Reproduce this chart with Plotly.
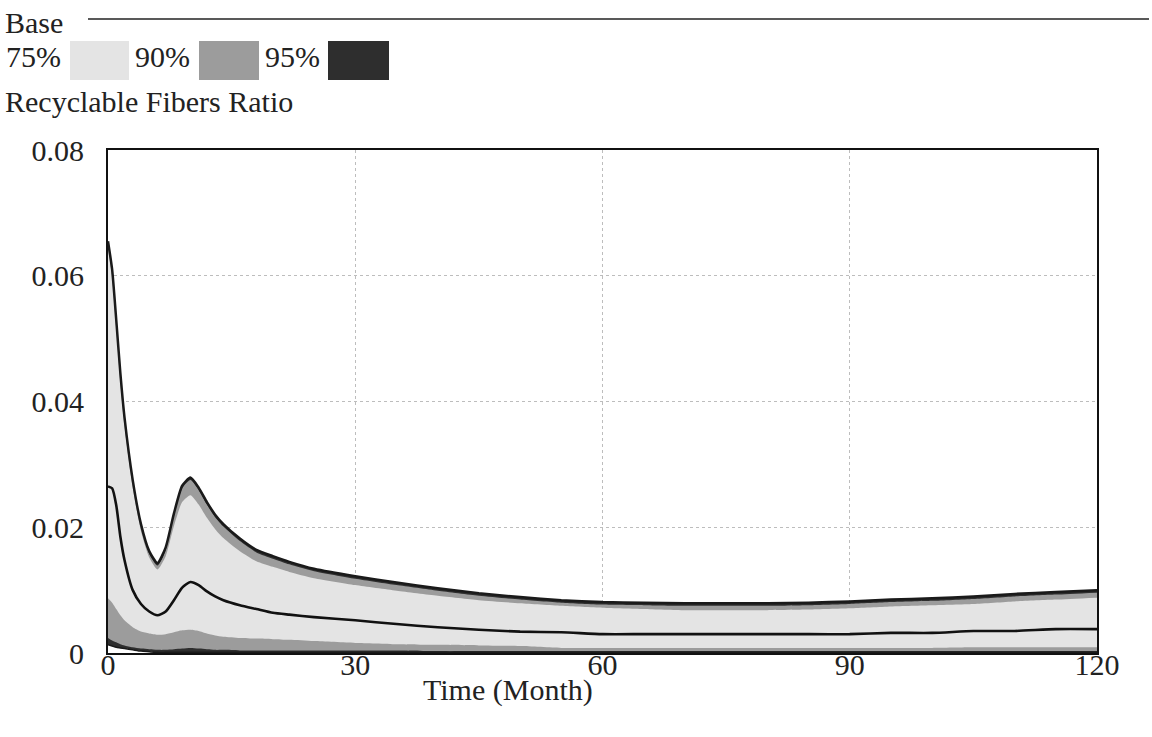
import plotly.graph_objects as go

# ---- data ----
time = [0, 0.5, 1, 1.5, 2, 3, 4, 5, 6, 7, 8, 9, 10, 11, 12, 13, 14, 16, 18, 20, 22, 25,
        30, 35, 40, 45, 50, 55, 60, 65, 70, 75, 80, 85, 90, 95, 100, 105, 110, 115, 120]

hi95 = [0.0655, 0.0610, 0.0530, 0.0445, 0.0375, 0.0275, 0.0205, 0.0162, 0.0143, 0.0168,
        0.0222, 0.0266, 0.0279, 0.0263, 0.0240, 0.0220, 0.0205, 0.0182, 0.0164, 0.0154,
        0.0145, 0.0134, 0.0122, 0.0112, 0.0103, 0.0095, 0.0089, 0.0084, 0.0081, 0.0080,
        0.0079, 0.0079, 0.0079, 0.0080, 0.0082, 0.0085, 0.0087, 0.0090, 0.0094, 0.0097, 0.0100]

hi90 = [0.0651, 0.0606, 0.0526, 0.0441, 0.0371, 0.0271, 0.0201, 0.0158, 0.0139, 0.0164,
        0.0218, 0.0262, 0.0275, 0.0259, 0.0236, 0.0216, 0.0201, 0.0178, 0.0160, 0.0150,
        0.0141, 0.0130, 0.0118, 0.0108, 0.0099, 0.0091, 0.0085, 0.0080, 0.0077, 0.0076,
        0.0075, 0.0075, 0.0075, 0.0076, 0.0078, 0.0081, 0.0083, 0.0086, 0.0090, 0.0093, 0.0096]

hi75 = [0.0645, 0.0598, 0.0516, 0.0431, 0.0361, 0.0263, 0.0194, 0.0152, 0.0133, 0.0154,
        0.0202, 0.0240, 0.0251, 0.0236, 0.0215, 0.0197, 0.0183, 0.0162, 0.0146, 0.0137,
        0.0129, 0.0119, 0.0108, 0.0099, 0.0091, 0.0084, 0.0079, 0.0075, 0.0072, 0.0070,
        0.0068, 0.0068, 0.0068, 0.0069, 0.0071, 0.0074, 0.0076, 0.0078, 0.0082, 0.0085, 0.0088]

base = [0.0265, 0.0262, 0.0235, 0.0185, 0.0148, 0.0100, 0.0078, 0.0066, 0.0060, 0.0066,
        0.0084, 0.0104, 0.0113, 0.0108, 0.0098, 0.0090, 0.0084, 0.0076, 0.0070, 0.0064,
        0.0061, 0.0057, 0.0052, 0.0046, 0.0041, 0.0037, 0.0034, 0.0033, 0.0030, 0.0030,
        0.0030, 0.0030, 0.0030, 0.0030, 0.0030, 0.0032, 0.0032, 0.0035, 0.0035, 0.0038, 0.0038]

lo75 = [0.0087, 0.0080, 0.0070, 0.0060, 0.0052, 0.0041, 0.0034, 0.0031, 0.0029, 0.0030,
        0.0033, 0.0036, 0.0037, 0.0035, 0.0031, 0.0028, 0.0026, 0.0024, 0.0023, 0.0022,
        0.0021, 0.0019, 0.0016, 0.0014, 0.0013, 0.0012, 0.0011, 0.0008, 0.0008, 0.0008,
        0.0008, 0.0008, 0.0008, 0.0008, 0.0008, 0.0008, 0.0008, 0.0009, 0.0009, 0.0009, 0.0009]

lo90 = [0.0024, 0.0020, 0.0017, 0.0014, 0.0012, 0.0009, 0.0007, 0.0006, 0.0005, 0.0005,
        0.0006, 0.0007, 0.0008, 0.0007, 0.0006, 0.0005, 0.0005, 0.0004, 0.0004, 0.0004,
        0.0004, 0.0004, 0.0004, 0.0004, 0.0003, 0.0003, 0.0003, 0.0003, 0.0003, 0.0003,
        0.0003, 0.0003, 0.0003, 0.0003, 0.0003, 0.0003, 0.0003, 0.0003, 0.0003, 0.0003, 0.0003]

lo95 = [0.0013, 0.0011, 0.0009, 0.0008, 0.0007, 0.0005, 0.0003, 0.0002, 0.0001, 0.0001,
        0.0001, 0.0001, 0.0001, 0.0001, 0.0001, 0.0001, 0.0001, 0.0001, 0.0001, 0.0001,
        0.0001, 0.0001, 0.0001, 0.0001, 0.0001, 0.0001, 0.0001, 0.0001, 0.0001, 0.0001,
        0.0001, 0.0001, 0.0001, 0.0001, 0.0001, 0.0001, 0.0001, 0.0001, 0.0001, 0.0001, 0.0001]

x_ticks = [0, 30, 60, 90, 120]
x_tick_labels = ["0", "30", "60", "90", "120"]
y_ticks = [0, 0.02, 0.04, 0.06, 0.08]
y_tick_labels = ["0", "0.02", "0.04", "0.06", "0.08"]

LIGHT = "#e4e4e4"
MID = "#9c9c9c"
DARK = "#2e2e2e"
FONT = "Liberation Serif"
FS = 30
SMOOTH = 0.6

fig = go.Figure()

def band(lo, hi, color):
    fig.add_trace(go.Scatter(x=time, y=lo, mode="lines",
                             line=dict(width=0, color=color, shape="spline", smoothing=SMOOTH),
                             showlegend=False, hoverinfo="skip"))
    fig.add_trace(go.Scatter(x=time, y=hi, mode="lines",
                             line=dict(width=0, color=color, shape="spline", smoothing=SMOOTH),
                             fill="tonexty", fillcolor=color, showlegend=False, hoverinfo="skip"))

band(lo95, hi95, DARK)
band(lo90, hi90, MID)
band(lo75, hi75, LIGHT)

# outer edges of the 95% band drawn as dark lines
fig.add_trace(go.Scatter(x=time, y=hi95, mode="lines",
                         line=dict(width=2.5, color="#1a1a1a", shape="spline", smoothing=SMOOTH),
                         showlegend=False, hoverinfo="skip"))
fig.add_trace(go.Scatter(x=time, y=lo95, mode="lines",
                         line=dict(width=1.5, color="#1a1a1a", shape="spline", smoothing=SMOOTH),
                         showlegend=False, hoverinfo="skip"))
# base run
fig.add_trace(go.Scatter(x=time, y=base, mode="lines",
                         line=dict(width=2.6, color="#111111", shape="spline", smoothing=SMOOTH),
                         showlegend=False, hoverinfo="skip"))

L, T, R, B = 108, 150, 55, 84
W, H = 1152, 737
PW, PH = W - L - R, H - T - B

def px(xp):
    return (xp - L) / PW

def py(yp):
    return (H - B - yp) / PH

shapes = [
    dict(type="line", xref="paper", yref="paper", x0=px(88), x1=px(1149), y0=py(19), y1=py(19),
         line=dict(color="#222222", width=1.5)),
    dict(type="rect", xref="paper", yref="paper", x0=px(70), x1=px(129), y0=py(80), y1=py(41),
         fillcolor=LIGHT, line=dict(width=0)),
    dict(type="rect", xref="paper", yref="paper", x0=px(199), x1=px(259), y0=py(80), y1=py(41),
         fillcolor=MID, line=dict(width=0)),
    dict(type="rect", xref="paper", yref="paper", x0=px(328), x1=px(389), y0=py(80), y1=py(41),
         fillcolor=DARK, line=dict(width=0)),
]

def txt(s, xpx, ypx, anchor="left"):
    return dict(text=s, xref="paper", yref="paper", x=px(xpx), y=py(ypx), xanchor=anchor,
                yanchor="middle", showarrow=False, font=dict(family=FONT, size=FS, color="#222222"))

annotations = [
    txt("Base", 3, 22),
    txt("75%", 4, 57),
    txt("90%", 133, 57),
    txt("95%", 263, 57),
    txt("Recyclable Fibers Ratio", 3, 102),
    txt("Time (Month)", 508, 690, "center"),
]

fig.update_layout(
    width=W, height=H,
    margin=dict(l=L, r=R, t=T, b=B),
    paper_bgcolor="white", plot_bgcolor="white",
    shapes=shapes, annotations=annotations,
    font=dict(family=FONT, size=FS, color="#222222"),
    xaxis=dict(range=[0, 120], tickvals=x_ticks, ticktext=x_tick_labels, showgrid=True,
               gridcolor="#bdbdbd", griddash="dot", gridwidth=1, zeroline=False,
               showline=True, linecolor="#111111", linewidth=2, mirror=True, ticks="",
               ticklabelstandoff=-16, tickfont=dict(family=FONT, size=FS)),
    yaxis=dict(range=[0, 0.08], tickvals=y_ticks, ticktext=y_tick_labels, showgrid=True,
               gridcolor="#bdbdbd", griddash="dot", gridwidth=1, zeroline=False,
               showline=True, linecolor="#111111", linewidth=2, mirror=True, ticks="",
               ticklabelstandoff=16, tickfont=dict(family=FONT, size=FS)),
)

fig.write_html("out.html")
